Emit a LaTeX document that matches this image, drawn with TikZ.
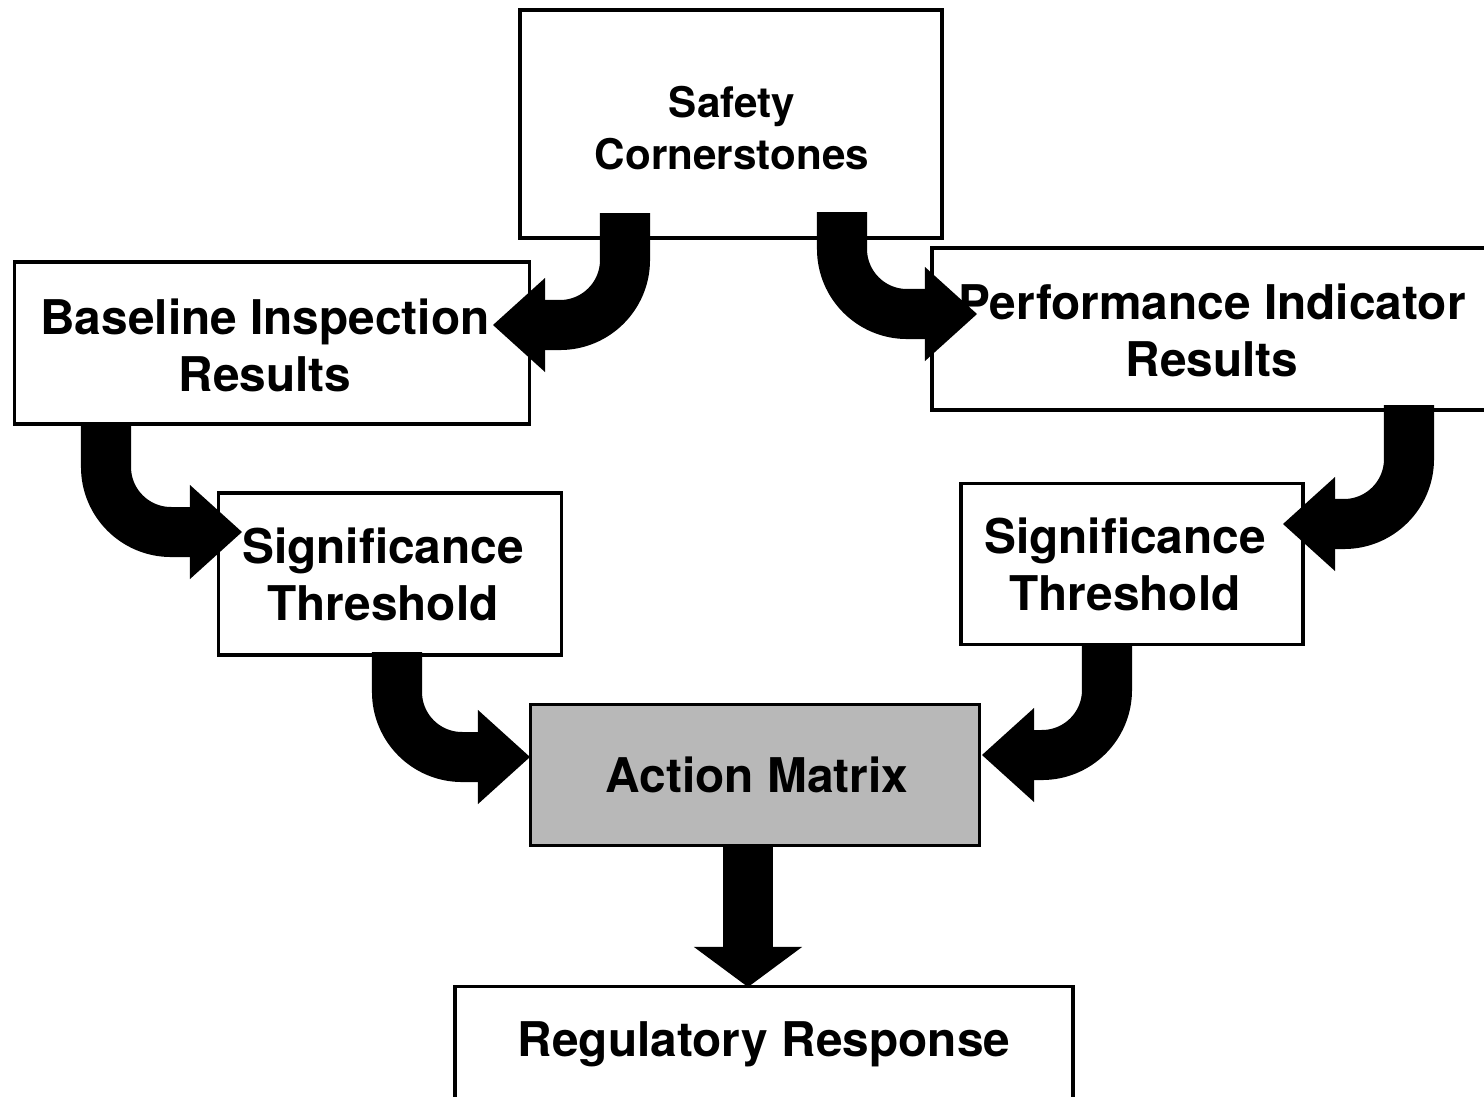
\documentclass[tikz,border=0pt]{standalone}
\usepackage{fontspec}
\setmainfont{TeX Gyre Heros}
\usetikzlibrary{arrows.meta}
\begin{document}
\begin{tikzpicture}[x=0.01cm,y=-0.01cm,
  box/.style={draw=black, line width=1pt, inner sep=0pt},
  label text/.style={align=center, inner sep=0pt,
    font=\fontsize{13.6}{16.2}\selectfont\bfseries},
  bigarrow/.style={line width=0.5cm, rounded corners=0.65cm,
    -{Triangle[length=0.52cm,width=0.94cm,line width=0pt]}},
  straightarrow/.style={line width=0.5cm,
    -{Triangle[length=0.40cm,width=1.08cm,line width=0pt]}}]
\useasboundingbox[fill=white] (0,0) rectangle (1484,1096);

% boxes
\node[box, minimum width=4.22cm, minimum height=2.28cm] (safety) at (731,124) {};
\node[box, minimum width=5.15cm, minimum height=1.62cm] (base) at (272,343) {};
\node[box, minimum width=5.60cm, minimum height=1.62cm] (pi) at (1212,329) {};
\node[box, minimum width=3.43cm, minimum height=1.62cm] (sigL) at (390,574) {};
\node[box, minimum width=3.42cm, minimum height=1.61cm] (sigR) at (1132,564) {};
\node[box, fill=black!28, minimum width=4.49cm, minimum height=1.41cm] (action) at (755,775) {};
\node[box, minimum width=6.18cm, minimum height=1.23cm] (reg) at (764,1048) {};

% texts
\node[label text, font=\fontsize{12}{14.7}\selectfont\bfseries] (safetyT) at ([xshift=0.01cm,yshift=-0.04cm]safety.center) {Safety\\Cornerstones};
\node[label text] (baseT) at ([xshift=-0.07cm,yshift=-0.02cm]base.center) {Baseline Inspection\\Results};
\node[label text] (piT) at ([yshift=-0.01cm]pi.center) {Performance Indicator\\Results};
\node[label text] (sigLT) at ([xshift=-0.07cm]sigL.center) {Significance\\Threshold};
\node[label text] (sigRT) at ([xshift=-0.07cm]sigR.center) {Significance\\Threshold};
\node[label text] (actionT) at ([xshift=0.02cm]action.center) {Action Matrix};
\node[label text] (regT) at ([yshift=0.04cm]reg.center) {Regulatory Response};

% connector end points
\coordinate (a1s) at (625,213);
\coordinate (a1e) at (493,325);
\coordinate (a2s) at (842,212);
\coordinate (a2e) at (977,314);
\coordinate (a3s) at (106,424);
\coordinate (a3e) at (242,532);
\coordinate (a4s) at (1409,405);
\coordinate (a4e) at (1283,524);
\coordinate (a5s) at (397,652);
\coordinate (a5e) at (530,757);
\coordinate (a6s) at (1107,644);
\coordinate (a6e) at (982,755);
\coordinate (a7s) at (748,845);
\coordinate (a7e) at (748,987);

\draw[bigarrow] (a1s) |- (a1e);
\draw[bigarrow] (a2s) |- (a2e);
\draw[bigarrow] (a3s) |- (a3e);
\draw[bigarrow] (a4s) |- (a4e);
\draw[bigarrow] (a5s) |- (a5e);
\draw[bigarrow] (a6s) |- (a6e);
\draw[straightarrow] (a7s) -- (a7e);
\end{tikzpicture}
\end{document}
